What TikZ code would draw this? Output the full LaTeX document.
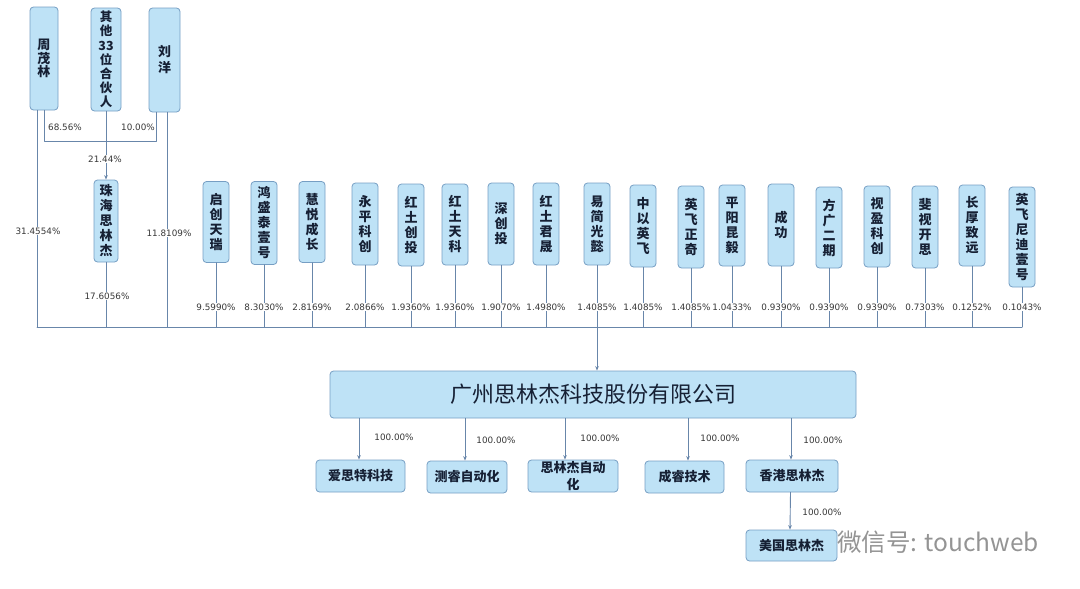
\documentclass[tikz,border=0pt]{standalone}
\usepackage{fontspec}
\newfontfamily\cjk{Noto Sans CJK SC}
\newfontfamily\pctfont{DejaVu Sans}
\usetikzlibrary{arrows.meta,calc}
\definecolor{boxfill}{RGB}{190,226,246}
\definecolor{boxline}{RGB}{118,158,195}
\definecolor{linkcol}{RGB}{104,134,170}
\definecolor{txtcol}{RGB}{22,32,52}

\begin{document}
\begin{tikzpicture}[
  x=1pt, y=-1pt,
  >={Stealth[length=4.5pt,width=3.6pt]},
  line cap=round,
  line join=round,
  box/.style={draw=boxline, fill=boxfill, line width=0.8pt, rounded corners=3.5pt, text=txtcol},
  vbox/.style={box, minimum width=26pt, inner sep=0pt, align=center,
    font=\cjk\bfseries\fontsize{13}{15}\selectfont},
  hbox/.style={box, minimum height=32pt, inner sep=1pt, align=center,
    font=\cjk\bfseries\fontsize{13}{14}\selectfont},
  link/.style={draw=linkcol, line width=0.9pt},
  pct/.style={font=\pctfont\fontsize{8.8}{10}\selectfont, text=black!78, fill=white, inner sep=1pt}
]
  \useasboundingbox (0,0) rectangle (1080,589);

  % Natural-person and partnership holders (top left)
  \node[vbox, minimum width=28pt, minimum height=103pt, font=\cjk\bfseries\fontsize{13}{13.5}\selectfont] (zml) at (44,58.5) {周\\茂\\林};
  \node[vbox, minimum width=30pt, minimum height=103pt, font=\cjk\bfseries\fontsize{12.5}{14.2}\selectfont] (qt) at (106,59.5) {其\\他\\33\\位\\合\\伙\\人};
  \node[vbox, minimum width=31pt, minimum height=104pt, font=\cjk\bfseries\fontsize{13}{16}\selectfont] (ly) at (164.5,60) {刘\\洋};
  \node[vbox, minimum width=24pt, minimum height=82pt] (zh) at (106,221) {珠\\海\\思\\林\\杰};

  % Shareholder bus and junction
  \coordinate (busL) at (37,327);
  \coordinate (busR) at (1022,327);
  \coordinate (jn) at (106,141);

  % Holders of 珠海思林杰
  \draw[link] (zml.south) |- ([xshift=-8.5pt]ly.south |- jn) -- ([xshift=-8.5pt]ly.south);
  \draw[link,->] (qt.south) -- (zh.north);
  \node[pct] (p1) at (65,127) {68.56\%};
  \node[pct] (p2) at (138,127) {10.00\%};
  \node[pct] (p3) at (105,159) {21.44\%};

  % Direct holdings down to the bus
  \draw[link] ([xshift=-7pt]zml.south) -- ([xshift=-7pt]zml.south |- busL);
  \draw[link] ([xshift=2.5pt]ly.south) -- ([xshift=2.5pt]ly.south |- busL);
  \draw[link] (zh.south) -- (zh.south |- busL);
  \node[pct] (p4) at (38,231) {31.4554\%};
  \node[pct] (p5) at (169,233) {11.8109\%};
  \node[pct] (p6) at (107,296) {17.6056\%};

  % Institutional holders
  \foreach \i/\x/\y/\h/\txt/\p in {
    1/216/222/81/{启\\创\\天\\瑞}/9.5990\%,
    2/264/223/83/{鸿\\盛\\泰\\壹\\号}/8.3030\%,
    3/312/222/81/{慧\\悦\\成\\长}/2.8169\%,
    4/365/224/82/{永\\平\\科\\创}/2.0866\%,
    5/411/225/82/{红\\土\\创\\投}/1.9360\%,
    6/455/224.5/81/{红\\土\\天\\科}/1.9360\%,
    7/501/224/82/{深\\创\\投}/1.9070\%,
    8/546/224/82/{红\\土\\君\\晟}/1.4980\%,
    9/597/224/82/{易\\简\\光\\懿}/1.4085\%,
    10/643/226/82/{中\\以\\英\\飞}/1.4085\%,
    11/691/227/82/{英\\飞\\正\\奇}/1.4085\%,
    12/732/225.5/81/{平\\阳\\昆\\毅}/1.0433\%,
    13/781/225/82/{成\\功}/0.9390\%,
    14/829/227.5/81/{方\\广\\二\\期}/0.9390\%,
    15/877/226.5/81/{视\\盈\\科\\创}/0.9390\%,
    16/925/227/82/{斐\\视\\开\\思}/0.7303\%,
    17/972/225.5/81/{长\\厚\\致\\远}/0.1252\%,
    18/1022/237/100/{英\\飞\\尼\\迪\\壹\\号}/0.1043\%}{
    \node[vbox, minimum height=\h pt] (inv\i) at (\x,\y) {\txt};
    \draw[link] (inv\i.south) -- (inv\i.south |- busL);
    \node[pct] (pc\i) at (\x,307) {\p};
  }
  \draw[link] (busL) -- (busR);

  % The company
  \node[box, minimum width=526pt, minimum height=47pt, font=\cjk\fontsize{22}{24}\selectfont] (main) at (593,394.5) {广州思林杰科技股份有限公司};
  \draw[link,->] (inv9.south |- busL) -- (inv9.south |- main.north);

  % Subsidiaries
  \node[hbox, minimum width=89pt] (s1) at (360.5,476) {爱思特科技};
  \node[hbox, minimum width=80pt] (s2) at (467,477) {测睿自动化};
  \node[hbox, minimum width=90pt, font=\cjk\bfseries\fontsize{13}{17}\selectfont] (s3) at (573,476) {思林杰自动\\化};
  \node[hbox, minimum width=79pt] (s4) at (684.5,477) {成睿技术};
  \node[hbox, minimum width=92pt] (s5) at (792,476) {香港思林杰};
  \node[hbox, minimum width=91pt, minimum height=31pt] (s6) at (791.5,545.5) {美国思林杰};

  \draw[link,->] ([xshift=-1.5pt]s1.north |- main.south) -- ([xshift=-1.5pt]s1.north);
  \draw[link,->] ([xshift=-2pt]s2.north |- main.south) -- ([xshift=-2pt]s2.north);
  \draw[link,->] ([xshift=-8pt]s3.north |- main.south) -- ([xshift=-8pt]s3.north);
  \draw[link,->] ([xshift=3.5pt]s4.north |- main.south) -- ([xshift=3.5pt]s4.north);
  \draw[link,->] ([xshift=-1pt]s5.north |- main.south) -- ([xshift=-1pt]s5.north);
  \draw[link,->] ([xshift=-1.5pt]s5.south) -- ([xshift=-1.5pt]s6.north);
  \node[pct] (q1) at (394,437) {100.00\%};
  \node[pct] (q2) at (496,440) {100.00\%};
  \node[pct] (q3) at (600,438) {100.00\%};
  \node[pct] (q4) at (720,438) {100.00\%};
  \node[pct] (q5) at (823,440) {100.00\%};
  \node[pct] (q6) at (822,512) {100.00\%};

  % Watermark
  \node[font=\cjk\fontsize{24.5}{26}\selectfont, text=black!42] (wm) at (938,542) {微信号: touchweb};
\end{tikzpicture}
\end{document}
